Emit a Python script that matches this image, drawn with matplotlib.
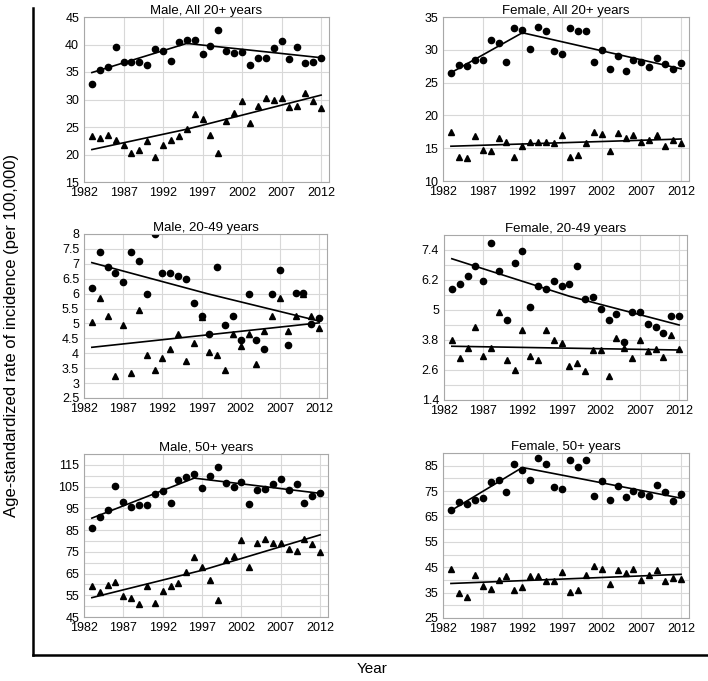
import matplotlib
matplotlib.use("Agg")
import matplotlib.pyplot as plt
from matplotlib.lines import Line2D
from matplotlib.ticker import FormatStrFormatter

plt.rcParams['font.family'] = ['Liberation Sans', 'DejaVu Sans']

years = list(range(1983, 2013))

# Male, All 20+
male_all_circ = [32.9, 35.4, 36.0, 39.6, 36.9, 36.8, 36.9, 36.3, 39.1, 38.8,
                 37.0, 40.4, 40.8, 40.8, 38.3, 39.7, 42.6, 38.9, 38.5, 38.7,
                 36.3, 37.5, 37.5, 39.4, 40.6, 37.4, 39.5, 36.6, 36.9, 37.5]
male_all_tri = [23.4, 23.0, 23.5, 22.7, 21.7, 20.3, 20.8, 22.5, 19.5, 21.7,
                22.6, 23.4, 24.6, 27.3, 26.5, 23.5, 20.3, 26.1, 27.5, 29.8,
                25.8, 28.9, 30.2, 30.0, 30.2, 28.6, 28.8, 31.1, 29.8, 28.5]
male_all_circ_fit = ([1983, 1995, 2012], [34.9, 40.2, 37.6])
male_all_tri_fit = ([1983, 1995, 2012], [20.9, 24.6, 30.8])

# Female, All 20+
fem_all_circ = [26.5, 27.7, 27.6, 28.5, 28.4, 31.5, 31.0, 28.2, 33.3, 33.0,
                30.1, 33.5, 32.8, 29.8, 29.4, 33.3, 32.9, 32.9, 28.2, 30.0,
                27.1, 29.0, 26.8, 28.4, 28.1, 27.4, 28.8, 27.8, 27.0, 28.0]
fem_all_tri = [17.4, 13.7, 13.5, 16.8, 14.7, 14.5, 16.6, 15.9, 13.7, 15.3,
               15.9, 15.9, 16.0, 15.8, 17.0, 13.7, 14.0, 15.8, 17.5, 17.1,
               14.5, 17.3, 16.6, 17.0, 16.0, 16.2, 17.0, 15.3, 16.3, 15.8]
fem_all_circ_fit = ([1983, 1992, 2012], [26.5, 32.6, 27.1])
fem_all_tri_fit = ([1983, 2012], [15.3, 16.4])

# Male, 20-49
male_young_circ = [6.18, 7.39, 6.89, 6.69, 6.38, 7.39, 7.09, 5.98, 8.0, 6.69,
                   6.69, 6.59, 6.48, 5.68, 5.26, 4.65, 6.90, 4.96, 5.26, 4.45,
                   5.98, 4.45, 4.15, 5.98, 6.79, 4.28, 6.01, 6.02, 4.99, 5.19]
male_young_tri = [5.06, 5.87, 5.26, 3.24, 4.96, 3.34, 5.46, 3.95, 3.44, 3.85,
                  4.15, 4.65, 3.74, 4.35, 5.2, 4.05, 3.95, 3.44, 4.65, 4.25,
                  4.65, 3.64, 4.75, 5.26, 5.87, 4.75, 5.26, 6.0, 5.26, 4.86]
male_young_circ_fit = ([1983, 1998, 2012], [7.04, 5.98, 5.08])
male_young_tri_fit = ([1983, 2012], [4.2, 5.02])

# Female, 20-49
fem_young_circ = [5.84, 6.05, 6.36, 6.76, 6.15, 7.67, 6.56, 4.62, 6.87, 7.37,
                  5.14, 5.95, 5.84, 6.15, 5.95, 6.05, 6.76, 5.44, 5.54, 5.03,
                  4.62, 4.83, 3.71, 4.92, 4.92, 4.45, 4.34, 4.09, 4.75, 4.75]
fem_young_tri = [3.81, 3.09, 3.50, 4.31, 3.18, 3.50, 4.92, 2.99, 2.59, 4.2,
                 3.18, 2.99, 4.2, 3.81, 3.7, 2.78, 2.89, 2.57, 3.39, 3.39,
                 2.37, 3.89, 3.49, 3.08, 3.81, 3.36, 3.43, 3.14, 4.0, 3.43]
fem_young_circ_fit = ([1983, 1998, 2012], [7.05, 5.55, 4.4])
fem_young_tri_fit = ([1983, 2012], [3.55, 3.40])

# Male, 50+
male_old_circ = [86.1, 91.2, 94.2, 105.5, 97.9, 95.6, 96.4, 96.7, 101.4, 102.9,
                 97.4, 108.1, 109.3, 111.0, 104.5, 109.7, 114.1, 106.6, 104.8, 106.9,
                 97.0, 103.5, 104.1, 106.3, 108.3, 103.4, 106.4, 97.6, 100.8, 102.2]
male_old_tri = [59.4, 56.3, 59.7, 61.0, 54.8, 53.9, 50.8, 59.2, 51.3, 57.1,
                59.2, 60.6, 65.6, 72.7, 68.2, 61.8, 52.8, 71.3, 73.1, 80.5,
                67.9, 78.9, 80.8, 79.1, 78.9, 76.2, 75.4, 81.1, 78.5, 75.1]
male_old_circ_fit = ([1983, 1996, 2012], [90.5, 108.9, 101.9])
male_old_tri_fit = ([1983, 1997, 2012], [53.9, 66.5, 82.8])

# Female, 50+
fem_old_circ = [67.6, 70.7, 69.8, 71.4, 72.3, 78.4, 79.4, 74.7, 85.5, 83.4,
                79.4, 87.9, 85.8, 76.7, 75.8, 87.2, 84.6, 87.2, 73.1, 79.0,
                71.6, 76.9, 72.7, 74.9, 73.9, 73.0, 77.3, 74.5, 71.2, 74.0]
fem_old_tri = [44.5, 35.0, 33.4, 42.0, 37.8, 36.5, 39.9, 41.5, 35.9, 37.2,
               41.4, 41.6, 39.7, 39.7, 43.3, 35.3, 36.0, 41.9, 45.6, 44.3,
               38.4, 44.0, 42.6, 44.4, 40.1, 41.9, 44.0, 39.4, 40.7, 40.3]
fem_old_circ_fit = ([1983, 1992, 2012], [67.3, 84.3, 72.2])
fem_old_tri_fit = ([1983, 2012], [38.6, 42.2])

xticks = [1982, 1987, 1992, 1997, 2002, 2007, 2012]

W, H = 708, 681
fig = plt.figure(figsize=(W / 100, H / 100), dpi=100)


def box(l, t, r, b):
    return [l / W, 1 - b / H, (r - l) / W, (b - t) / H]


def panel(rect, title, circ, tri, cfit, tfit, ylim, yticks, minor=None):
    ax = fig.add_axes(box(*rect))
    ax.set_xlim(1982, 2013)
    ax.set_ylim(*ylim)
    ax.set_xticks(xticks)
    ax.set_yticks(yticks)
    ax.yaxis.set_major_formatter(FormatStrFormatter('%g'))
    if minor is not None:
        ax.set_yticks(minor, minor=True)
    ax.grid(True, which='both', color='#d8d8d8', lw=0.8)
    ax.set_axisbelow(True)
    ax.tick_params(which='both', length=0, labelsize=9)
    ax.tick_params(axis='x', pad=3.5)
    ax.tick_params(axis='y', pad=3.5)
    for s in ax.spines.values():
        s.set_color('#a8a8a8')
        s.set_linewidth(0.8)
    ax.plot(years, tri, linestyle='none', marker='^', ms=4, color='black')
    ax.plot(years, circ, linestyle='none', marker='o', ms=4.5, color='black')
    ax.plot(cfit[0], cfit[1], color='black', lw=1.2)
    ax.plot(tfit[0], tfit[1], color='black', lw=1.2)
    ax.set_title(title, fontsize=9.5, pad=2)
    return ax


panel((84, 17, 329, 182), 'Male, All 20+ years', male_all_circ, male_all_tri,
      male_all_circ_fit, male_all_tri_fit, (15, 45), range(15, 46, 5))
panel((443, 17, 689, 181), 'Female, All 20+ years', fem_all_circ, fem_all_tri,
      fem_all_circ_fit, fem_all_tri_fit, (10, 35), range(10, 36, 5))
panel((84, 234, 327, 398), 'Male, 20-49 years', male_young_circ, male_young_tri,
      male_young_circ_fit, male_young_tri_fit, (2.5, 8),
      [2.5, 3, 3.5, 4, 4.5, 5, 5.5, 6, 6.5, 7, 7.5, 8])
panel((444, 235, 687, 400), 'Female, 20-49 years', fem_young_circ, fem_young_tri,
      fem_young_circ_fit, fem_young_tri_fit, (1.4, 8.0),
      [1.4, 2.6, 3.8, 5, 6.2, 7.4], minor=[2.0, 3.2, 4.4, 5.6, 6.8])
panel((84, 454, 328, 617), 'Male, 50+ years', male_old_circ, male_old_tri,
      male_old_circ_fit, male_old_tri_fit, (45, 120), range(45, 116, 10),
      minor=range(50, 121, 10))
panel((443, 453, 689, 618), 'Female, 50+ years', fem_old_circ, fem_old_tri,
      fem_old_circ_fit, fem_old_tri_fit, (25, 90), range(25, 86, 10),
      minor=range(30, 91, 10))

# outer frame (left and bottom)
fig.add_artist(Line2D([33 / W, 33 / W], [1 - 8 / H, 1 - 655 / H], color='black', lw=1.8))
fig.add_artist(Line2D([33 / W, 1.0], [1 - 655 / H, 1 - 655 / H], color='black', lw=1.8))

fig.text(12 / W, 1 - 335 / H, 'Age-standardized rate of incidence (per 100,000)',
         rotation=90, ha='center', va='center', fontsize=12)
fig.text(372 / W, 1 - 669 / H, 'Year', ha='center', va='center', fontsize=11)

fig.savefig('out.png', dpi=100)
